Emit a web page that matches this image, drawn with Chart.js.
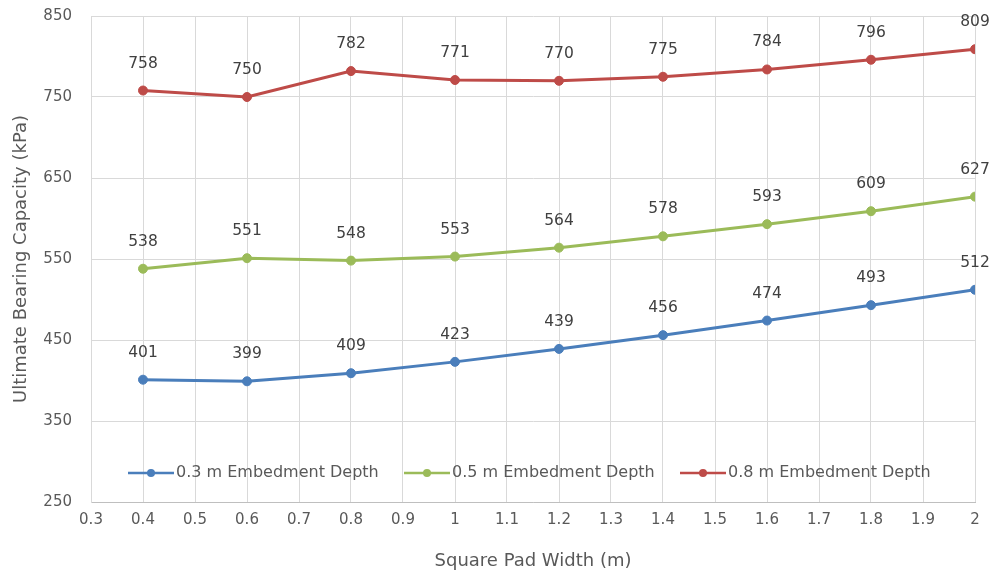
<!DOCTYPE html>
<html>
<head>
<meta charset="utf-8">
<script src="https://cdn.jsdelivr.net/npm/chart.js@4/dist/chart.umd.min.js"></script>
<style>
  html, body { margin: 0; padding: 0; background: #fff; }
  #wrap { width: 993px; height: 576px; }
</style>
</head>
<body>
<div id="wrap"><canvas id="bearingChart" width="993" height="576"></canvas></div>
<script>
// Chart data
const padWidths = [0.4, 0.6, 0.8, 1.0, 1.2, 1.4, 1.6, 1.8, 2.0];
const depth03 = [401, 399, 409, 423, 439, 456, 474, 493, 512];
const depth05 = [538, 551, 548, 553, 564, 578, 593, 609, 627];
const depth08 = [758, 750, 782, 771, 770, 775, 784, 796, 809];
const seriesNames = ["0.3 m Embedment Depth", "0.5 m Embedment Depth", "0.8 m Embedment Depth"];
const yTicks = [250, 350, 450, 550, 650, 750, 850];

const FONT = "'DejaVu Sans', sans-serif";
const TEXT = "#595959";

function toPoints(values) {
  return padWidths.map((x, i) => ({ x: x, y: values[i] }));
}

function makeSeries(label, values, color) {
  return {
    label: label,
    data: toPoints(values),
    borderColor: color,
    backgroundColor: color,
    borderWidth: 3,
    pointRadius: 4.5,
    pointBorderWidth: 1,
    pointHoverRadius: 4.5,
    tension: 0
  };
}

// Value labels above each point
const valueLabels = {
  id: "valueLabels",
  afterDatasetsDraw(chart) {
    const ctx = chart.ctx;
    ctx.save();
    ctx.font = "15.5px " + FONT;
    ctx.fillStyle = "#404040";
    ctx.textAlign = "center";
    ctx.textBaseline = "middle";
    chart.data.datasets.forEach((ds, i) => {
      chart.getDatasetMeta(i).data.forEach((pt, j) => {
        ctx.fillText(String(ds.data[j].y), pt.x, pt.y - 27);
      });
    });
    ctx.restore();
  }
};

// Legend drawn inside the plot area, near the bottom
const innerLegend = {
  id: "innerLegend",
  afterDraw(chart) {
    const ctx = chart.ctx;
    const y = 473;
    const starts = [128, 404, 680];
    ctx.save();
    ctx.font = "16px " + FONT;
    ctx.textBaseline = "middle";
    ctx.textAlign = "left";
    chart.data.datasets.forEach((ds, i) => {
      const x0 = starts[i];
      ctx.strokeStyle = ds.borderColor;
      ctx.lineWidth = 2.5;
      ctx.beginPath();
      ctx.moveTo(x0, y);
      ctx.lineTo(x0 + 46, y);
      ctx.stroke();
      ctx.fillStyle = ds.borderColor;
      ctx.beginPath();
      ctx.arc(x0 + 23, y, 4, 0, Math.PI * 2);
      ctx.fill();
      ctx.fillStyle = TEXT;
      ctx.fillText(ds.label, x0 + 48, y);
    });
    ctx.restore();
  }
};

new Chart(document.getElementById("bearingChart"), {
  type: "line",
  data: {
    datasets: [
      makeSeries(seriesNames[0], depth03, "#4a7ebb"),
      makeSeries(seriesNames[1], depth05, "#9bbb59"),
      makeSeries(seriesNames[2], depth08, "#be4b48")
    ]
  },
  options: {
    responsive: false,
    animation: false,
    layout: { padding: { top: 16, right: 18, left: 0, bottom: 4 } },
    plugins: {
      legend: { display: false },
      tooltip: { enabled: false }
    },
    scales: {
      x: {
        type: "linear",
        min: 0.3,
        max: 2,
        ticks: {
          stepSize: 0.1,
          color: TEXT,
          font: { family: FONT, size: 15 },
          padding: 9,
          maxRotation: 0,
          callback: (v) => String(Number(v.toFixed(1)))
        },
        grid: { color: "#d9d9d9", drawTicks: false },
        border: { color: "#bfbfbf" },
        title: {
          display: true,
          text: "Square Pad Width (m)",
          color: TEXT,
          font: { family: FONT, size: 18 },
          padding: { top: 10, bottom: 0 }
        },
        afterFit: (scale) => { scale.height = 70; }
      },
      y: {
        type: "linear",
        min: 250,
        max: 850,
        afterBuildTicks: (scale) => { scale.ticks = yTicks.map((v) => ({ value: v })); },
        ticks: {
          color: TEXT,
          font: { family: FONT, size: 15 },
          padding: 19
        },
        grid: { color: "#d9d9d9", drawTicks: false },
        border: { color: "#d9d9d9" },
        title: {
          display: true,
          text: "Ultimate Bearing Capacity (kPa)",
          color: TEXT,
          font: { family: FONT, size: 18 },
          padding: { top: 11, bottom: 0 }
        },
        afterFit: (scale) => {
          scale.width = 91;
          // tick padding would otherwise push the plot top down
          scale.paddingTop = 8;
          scale.paddingBottom = 8;
        }
      }
    }
  },
  plugins: [valueLabels, innerLegend]
});
</script>
</body>
</html>
